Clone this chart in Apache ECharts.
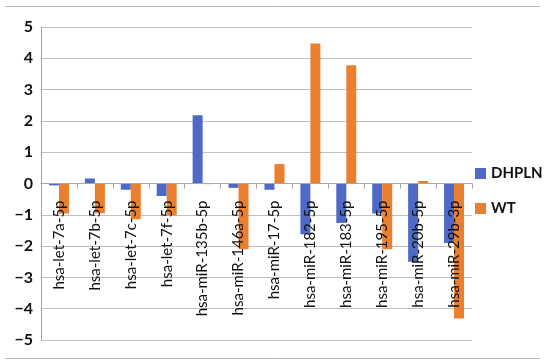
<!DOCTYPE html>
<html><head><meta charset="utf-8">
<script src="https://cdn.jsdelivr.net/npm/echarts@6/dist/echarts.min.js"></script>
<style>html,body{margin:0;padding:0;background:#fff}#c{width:550px;height:364px}</style>
</head><body><div id="c"></div>
<script>
const categories = ["hsa-let-7a-5p","hsa-let-7b-5p","hsa-let-7c-5p","hsa-let-7f-5p","hsa-miR-135b-5p","hsa-miR-146a-5p","hsa-miR-17-5p","hsa-miR-182-5p","hsa-miR-183-5p","hsa-miR-195-5p","hsa-miR-20b-5p","hsa-miR-29b-3p"];
const dhpln = [-0.06, 0.16, -0.2, -0.4, 2.18, -0.14, -0.2, -1.62, -1.26, -0.96, -2.5, -1.9];
const wt = [-0.96, -0.95, -1.14, -1.02, -0.02, -2.1, 0.62, 4.47, 3.78, -2.1, 0.08, -4.31];
const yTicks = {min: -5, max: 5, interval: 1};

const chart = echarts.init(document.getElementById('c'), null, {renderer: 'canvas'});
chart.setOption({
  animation: false,
  textStyle: {fontFamily: 'Lato'},
  grid: {left: 41, right: 78, top: 27, bottom: 24, containLabel: false, outerBoundsMode: 'none'},
  legend: {
    orient: 'vertical', left: 470, top: 161, itemWidth: 11, itemHeight: 11, itemGap: 20,
    icon: 'rect',
    textStyle: {fontSize: 15, fontWeight: 'bold', color: '#111', fontFamily: 'Lato'},
    data: ['DHPLN', 'WT']
  },
  xAxis: {
    type: 'category', data: categories,
    offset: -156.5, z: 10,
    axisLine: {onZero: false, lineStyle: {color: '#A6A6A6'}},
    axisTick: {show: true, interval: 0, length: 5, lineStyle: {color: '#A6A6A6'}},
    axisLabel: {rotate: 90, interval: 0, fontSize: 15, color: '#111', margin: 17, fontFamily: 'Lato'}
  },
  yAxis: {
    type: 'value', min: yTicks.min, max: yTicks.max, interval: yTicks.interval,
    axisLine: {show: true, lineStyle: {color: '#A6A6A6'}},
    axisTick: {show: false},
    splitLine: {lineStyle: {color: '#BFBFBF', width: 1}},
    axisLabel: {fontSize: 16, fontWeight: 'bold', color: '#111', margin: 8,
      formatter: v => String(v).replace('-', '\u2212'), fontFamily: 'Lato'}
  },
  series: [
    {name: 'DHPLN', type: 'bar', data: dhpln, barWidth: 10, barGap: '0%', itemStyle: {color: '#4E6AC6'}},
    {name: 'WT', type: 'bar', data: wt, barWidth: 10, barGap: '0%', itemStyle: {color: '#E97F2F'}}
  ],
  graphic: [
    {type: 'line', shape: {x1: 5, y1: 6.5, x2: 540, y2: 6.5}, style: {stroke: '#BDBDBD', lineWidth: 1}},
    {type: 'line', shape: {x1: 5, y1: 358.5, x2: 540, y2: 358.5}, style: {stroke: '#BDBDBD', lineWidth: 1}}
  ]
});
</script></body></html>
